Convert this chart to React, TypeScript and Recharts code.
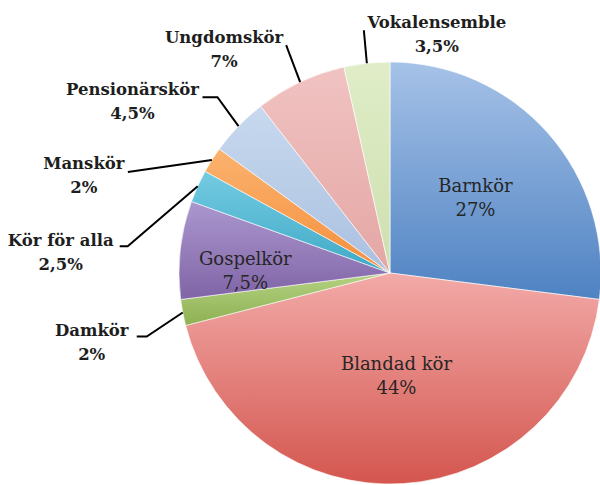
import { PieChart, Pie, Cell } from "recharts";

const CATEGORIES = [
  "Barnkör",
  "Blandad kör",
  "Damkör",
  "Gospelkör",
  "Kör för alla",
  "Manskör",
  "Pensionärskör",
  "Ungdomskör",
  "Vokalensemble",
];
const SHARES = [27, 44, 2, 7.5, 2.5, 2, 4.5, 7, 3.5];

// light (top) and dark (bottom) stops of each slice's gradient
const LIGHT = ["#a6c2e8", "#f2aaa8", "#b4d283", "#ab97cf", "#74cbe2", "#fbb36e", "#c8d9ee", "#f0c3c2", "#e0edc8"];
const DARK = ["#4e82c2", "#d4564f", "#8fb052", "#8064a6", "#3fa9c6", "#f58e3c", "#a9c0e0", "#e4a6a4", "#cddfae"];

// label layout: inside labels use a radius factor, outside ones offsets from the arc point
type LabelLayout =
  | { inside: true; r: number; dy?: number }
  | { inside: false; tx: number; ty: number; path: number[][] };

const LAYOUT: LabelLayout[] = [
  { inside: true, r: 0.54 },
  { inside: true, r: 0.49, dy: 0 },
  { inside: false, tx: -91, ty: 17, path: [[-46, 24], [-36, 24]] },
  { inside: true, r: 0.69, dy: 14 },
  { inside: false, tx: -137, ty: 54, path: [[-78, 60], [-70, 60]] },
  { inside: false, tx: -128, ty: 3, path: [[-84, 12]] },
  { inside: false, tx: -106, ty: -37, path: [[-36, -29], [-21, -29]] },
  { inside: false, tx: -76, ty: -45, path: [[-14, -37]] },
  { inside: false, tx: 70, ty: -41, path: [[-3, -33]] },
];

const data = CATEGORIES.map((name, i) => ({ name, value: SHARES[i] }));

const RADIAN = Math.PI / 180;
const FONT = "'DejaVu Serif', serif";

const fmt = (v: number) => `${String(v).replace(".", ",")}%`;

function renderLabel(props: any) {
  const { cx, cy, midAngle, outerRadius, index, value, name } = props;
  const lay = LAYOUT[index];
  const cos = Math.cos(-midAngle * RADIAN);
  const sin = Math.sin(-midAngle * RADIAN);
  if (lay.inside) {
    const r = outerRadius * lay.r;
    const x = cx + r * cos;
    const y = cy + r * sin + (lay.dy ?? 0);
    return (
      <text
        x={x}
        y={y}
        textAnchor="middle"
        fontFamily={FONT}
        fontSize={18}
        fill="#262626"
      >
        <tspan x={x} dy={-6}>{name}</tspan>
        <tspan x={x} dy={24}>{fmt(value)}</tspan>
      </text>
    );
  }
  const ax = cx + outerRadius * cos;
  const ay = cy + outerRadius * sin;
  const pts = [...lay.path.map(([dx, dy]) => [ax + dx, ay + dy]), [ax, ay]];
  const tx = ax + lay.tx;
  const ty = ay + lay.ty;
  return (
    <g>
      <polyline
        points={pts.map((p) => p.join(",")).join(" ")}
        fill="none"
        stroke="#000"
        strokeWidth={2}
      />
      <text
        x={tx}
        y={ty}
        textAnchor="middle"
        fontFamily={FONT}
        fontSize={16.5}
        fontWeight="bold"
        fill="#1e1e1e"
        stroke="#fff"
        strokeWidth={3}
        paintOrder="stroke"
      >
        <tspan x={tx} dy={6}>{name}</tspan>
        <tspan x={tx} dy={24}>{fmt(value)}</tspan>
      </text>
    </g>
  );
}

export default function App() {
  return (
    <div style={{ position: "absolute", left: 0, top: 0, background: "#fff" }}>
      <PieChart width={600} height={485} margin={{ top: 0, right: 0, bottom: 0, left: 0 }}>
        <defs>
          {LIGHT.map((c, i) => (
            <linearGradient key={i} id={`grad-${i}`} x1="0" y1="0" x2="0" y2="1">
              <stop offset="0%" stopColor={c} />
              <stop offset="100%" stopColor={DARK[i]} />
            </linearGradient>
          ))}
        </defs>
        <Pie
          data={data}
          dataKey="value"
          nameKey="name"
          cx={390}
          cy={273}
          outerRadius={211}
          startAngle={90}
          endAngle={-270}
          stroke="#fff"
          strokeWidth={0.6}
          label={renderLabel}
          labelLine={false}
          isAnimationActive={false}
        >
          {data.map((entry, index) => (
            <Cell key={`cell-${index}`} fill={`url(#grad-${index})`} />
          ))}
        </Pie>
      </PieChart>
    </div>
  );
}
